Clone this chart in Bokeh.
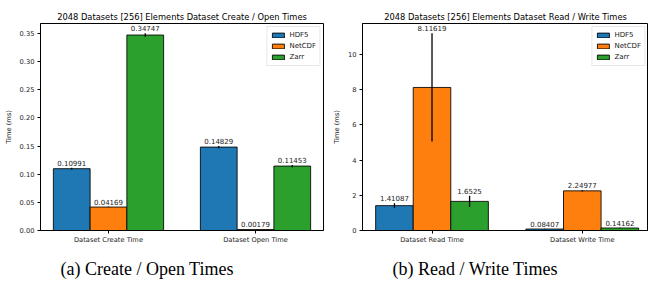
import numpy as np
from bokeh.plotting import figure
from bokeh.layouts import row
from bokeh.models import (ColumnDataSource, Range1d, FixedTicker, SingleIntervalTicker,
                          NumeralTickFormatter, Title)
from bokeh.core.properties import value
from bokeh.embed import file_html
from bokeh.resources import INLINE

# ---------------- data ----------------
series = ["HDF5", "NetCDF", "Zarr"]
colors = ["#1f77b4", "#ff7f0e", "#2ca02c"]

cats_a = ["Dataset Create Time", "Dataset Open Time"]
hdf5_a = [0.10991, 0.14829]
netcdf_a = [0.04169, 0.00179]
zarr_a = [0.34747, 0.11453]
hdf5_a_err = [0.0015, 0.0020]
netcdf_a_err = [0.0004, 0.0001]
zarr_a_err = [0.0030, 0.0020]

cats_b = ["Dataset Read Time", "Dataset Write Time"]
hdf5_b = [1.41087, 0.08407]
netcdf_b = [8.11619, 2.24977]
zarr_b = [1.6525, 0.14162]
hdf5_b_err = [0.13, 0.01]
netcdf_b_err = [3.07, 0.03]
zarr_b_err = [0.32, 0.01]

title_a = "2048 Datasets [256] Elements Dataset Create / Open Times"
title_b = "2048 Datasets [256] Elements Dataset Read / Write Times"
caption_a = "(a) Create / Open Times"
caption_b = "(b) Read / Write Times"

FONT = "DejaVu Sans"
BAR_W = 0.25
FIG_H = 281


def make_plot(cats, vals, errs, title, caption, width, x_end_frac, y_interval, y_fmt,
              min_left, min_right, cap_offset):
    top = max(v + e for vs, es in zip(vals, errs) for v, e in zip(vs, es)) * 1.05
    n = len(cats)
    x_start = -1.5 * BAR_W - 0.05 * (n - 1 + 3 * BAR_W)
    x_end_full = (n - 1) + 1.5 * BAR_W + 0.05 * (n - 1 + 3 * BAR_W)
    x_end = x_start + (x_end_full - x_start) * x_end_frac
    p = figure(width=width, height=FIG_H, output_backend="svg", toolbar_location=None,
               x_range=Range1d(x_start, x_end), y_range=Range1d(0, top),
               min_border_left=min_left, min_border_right=min_right,
               min_border_top=23, min_border_bottom=10)
    p.title.text = title
    p.title.text_font = FONT
    p.title.text_font_size = "8.3px"
    p.title.text_font_style = "normal"
    p.title.text_color = "black"
    p.title.align = "center"
    p.title.standoff = 3
    p.grid.visible = False
    p.outline_line_color = "black"
    p.background_fill_color = "white"
    p.border_fill_color = "white"

    idx = np.arange(n)
    for k, (name, col, vs, es) in enumerate(zip(series, colors, vals, errs)):
        xs = idx + (k - 1) * BAR_W
        vs = np.array(vs)
        es = np.array(es)
        src = ColumnDataSource(dict(x=xs, top=vs, lo=vs - es, hi=vs + es,
                                    lab=[f"{v:g}" for v in vs]))
        p.vbar(x="x", top="top", bottom=0, width=BAR_W, source=src, fill_color=col,
               line_color="black", line_alpha=0.85, line_width=1, legend_label=name)
        p.segment(x0="x", y0="lo", x1="x", y1="hi", source=src, line_color="black",
                  line_width=1.3)
        p.text(x="x", y="hi", text="lab", source=src, text_align="center",
               text_baseline="bottom", y_offset=-2, text_font_size="7px",
               text_font=value(FONT), text_color="#222222")

    xa = p.xaxis[0]
    xa.ticker = FixedTicker(ticks=list(idx))
    xa.major_label_overrides = {int(i): c for i, c in zip(idx, cats)}
    xa.major_label_text_font = FONT
    xa.major_label_text_font_size = "6.7px"
    xa.major_label_standoff = 2
    xa.major_tick_out = 3
    xa.major_tick_in = 0
    xa.minor_tick_line_color = None
    xa.axis_line_color = "black"
    xa.major_tick_line_color = "black"
    xa.major_label_text_color = "#222222"
    xa.axis_label = " "
    xa.axis_label_text_font_size = "3px"
    xa.axis_label_standoff = 1

    ya = p.yaxis[0]
    ya.ticker = SingleIntervalTicker(interval=y_interval)
    ya.formatter = NumeralTickFormatter(format=y_fmt)
    ya.axis_label = "Time (ms)"
    ya.axis_label_text_font = FONT
    ya.axis_label_text_font_size = "6.7px"
    ya.axis_label_text_font_style = "normal"
    ya.axis_label_standoff = 4
    ya.axis_label_text_color = "#222222"
    ya.major_label_text_font = FONT
    ya.major_label_text_font_size = "6.7px"
    ya.major_label_standoff = 2
    ya.major_tick_out = 3
    ya.major_tick_in = 0
    ya.minor_tick_line_color = None
    ya.axis_line_color = "black"
    ya.major_tick_line_color = "black"
    ya.major_label_text_color = "#222222"

    lg = p.legend[0]
    lg.location = "top_right"
    lg.margin = 3
    lg.padding = 3
    lg.spacing = 1
    lg.label_height = 10
    lg.label_width = 10
    lg.label_standoff = 4
    lg.glyph_width = 15
    lg.glyph_height = 6
    lg.label_text_font = FONT
    lg.label_text_font_size = "7px"
    lg.label_text_color = "#222222"
    lg.border_line_color = "#d0d0d0"
    lg.background_fill_alpha = 0.8

    cap = Title(text=caption, align="left", offset=cap_offset, text_font="Liberation Serif",
                text_font_size="18px", text_font_style="normal", text_color="black",
                standoff=6)
    p.add_layout(cap, "below")
    return p


p1 = make_plot(cats_a, [hdf5_a, netcdf_a, zarr_a], [hdf5_a_err, netcdf_a_err, zarr_a_err],
               title_a, caption_a, 324, 1.0, 0.05, "0.00", 40, 1, 20)
p2 = make_plot(cats_b, [hdf5_b, netcdf_b, zarr_b], [hdf5_b_err, netcdf_b_err, zarr_b_err],
               title_b, caption_b, 324, 286.0 / 289.3, 2, "0", 38, 0, 30)

layout = row(p1, p2)
open("out.html", "w").write(file_html(layout, INLINE))
